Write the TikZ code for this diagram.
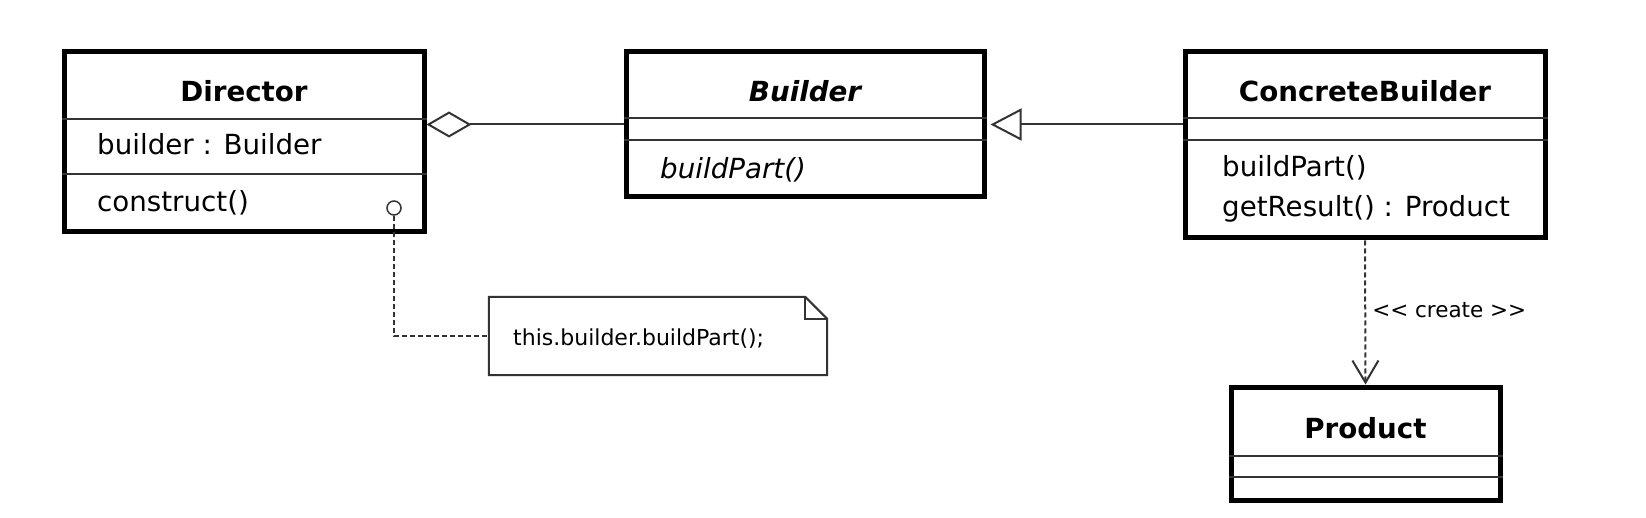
\documentclass[tikz,border=0pt]{standalone}
\usepackage{fontspec}
\setmainfont{DejaVu Sans}[BoldFont={DejaVu Sans Bold},ItalicFont={DejaVu Sans Oblique},BoldItalicFont={DejaVu Sans Bold Oblique}]
\usetikzlibrary{arrows.meta}
\newcommand\bigtxt{\fontsize{27.7}{33}\selectfont}
\newcommand\smalltxt{\fontsize{22}{26}\selectfont}
\newcommand\tinytxt{\fontsize{21.5}{25}\selectfont}
\definecolor{linegray}{HTML}{333333}
\tikzset{
  classbox/.style={draw=black,line width=5pt,fill=white,rectangle,inner sep=0pt,outer sep=2.5pt},
  divider/.style={draw=linegray,line width=2pt},
  txt/.style={inner sep=0pt,anchor=base west,font=\bigtxt},
  title/.style={inner sep=0pt,anchor=base,font=\bigtxt\bfseries},
  aggr/.style={draw=linegray,line width=2pt,-{Diamond[open,length=45pt,width=26pt,line width=2pt]}},
  gen/.style={draw=linegray,line width=2pt,-{Triangle[open,length=31pt,width=32pt,line width=2pt]},shorten >=4pt},
  dep/.style={draw=linegray,line width=2pt,dash pattern=on 5pt off 3pt,-{Straight Barb[length=22pt,width=26pt,line width=2pt]}},
  notelink/.style={draw=linegray,line width=2pt,dash pattern=on 5pt off 3pt},
}
\begin{document}
\begin{tikzpicture}[x=1pt,y=-1pt]
\useasboundingbox[fill=white] (0,0) rectangle (1646,518);

% Director
\node[classbox,minimum width=360pt,minimum height=180pt] (director) at (244,142) {};
\draw[divider] (director.west |- 0,119) -- (director.east |- 0,119);
\draw[divider] (director.west |- 0,174) -- (director.east |- 0,174);
\node[title] (dtitle) at (244,102) {Director};
\node[txt] (dattr) at (97,155) {builder : Builder};
\node[txt] (dop) at (97,212) {construct()};
\node[circle,draw=linegray,line width=1.5pt,minimum size=14pt,inner sep=0pt] (circ) at (394,208) {};

% Builder
\node[classbox,minimum width=358pt,minimum height=145pt] (builder) at (805,124.5) {};
\draw[divider] (builder.west |- 0,118) -- (builder.east |- 0,118);
\draw[divider] (builder.west |- 0,140) -- (builder.east |- 0,140);
\node[title,font=\bigtxt\bfseries\itshape] (btitle) at (805,102) {Builder};
\node[txt,font=\bigtxt\itshape] (bop) at (660,179) {buildPart()};

% ConcreteBuilder
\node[classbox,minimum width=360pt,minimum height=186pt] (cb) at (1365,145) {};
\draw[divider] (cb.west |- 0,118) -- (cb.east |- 0,118);
\draw[divider] (cb.west |- 0,140) -- (cb.east |- 0,140);
\node[title] (cbtitle) at (1365,102) {ConcreteBuilder};
\node[txt] (cbop1) at (1222,177) {buildPart()};
\node[txt] (cbop2) at (1222,217) {getResult() : Product};

% Product
\node[classbox,minimum width=269pt,minimum height=113pt] (product) at (1365.5,443.5) {};
\draw[divider] (product.west |- 0,456) -- (product.east |- 0,456);
\draw[divider] (product.west |- 0,477) -- (product.east |- 0,477);
\node[title] (ptitle) at (1365.5,438) {Product};

% Note
\node[rectangle,minimum width=338pt,minimum height=78pt,inner sep=0pt] (note) at (658,336) {};
\draw[draw=linegray,line width=2pt,fill=white]
  (note.north west) -- ([xshift=-22pt]note.north east) -- ([yshift=-22pt]note.north east)
  -- (note.south east) -- (note.south west) -- cycle;
\draw[draw=linegray,line width=1.5pt]
  ([xshift=-22pt]note.north east) -- ([xshift=-22pt,yshift=-22pt]note.north east) -- ([yshift=-22pt]note.north east);
\node[inner sep=0pt,anchor=base west,font=\smalltxt] (notetext) at (513,345) {this.builder.buildPart();};

% Connectors
\draw[aggr] (builder.west) -- (builder.west -| director.east);
\draw[gen] (cb.west |- builder.east) -- (builder.east);
\draw[dep] (cb.south) -- (product.north)
  node[pos=0.48,right=6pt,inner sep=0pt,font=\tinytxt] (createlbl) {<{}< create >{}>};
\draw[notelink] (circ.south) |- (note.west);
\end{tikzpicture}
\end{document}
